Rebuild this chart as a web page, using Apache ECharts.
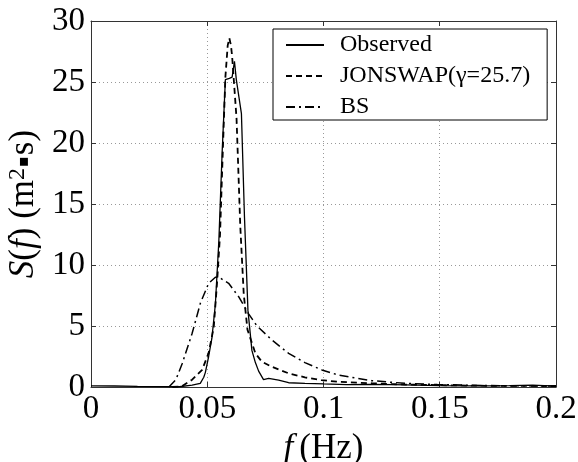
<!DOCTYPE html>
<html>
<head>
<meta charset="utf-8">
<script src="https://cdn.jsdelivr.net/npm/echarts@6/dist/echarts.min.js"></script>
<style>html,body{margin:0;padding:0;background:#fff;}#c{width:578px;height:462px;}</style>
</head>
<body>
<div id="c"></div>
<script>
// ---- data ----
const xTickLabels = ['0', '0.05', '0.1', '0.15', '0.2'];
const yTickLabels = ['0', '5', '10', '15', '20', '25', '30'];
const seriesNames = ['Observed', 'JONSWAP(\u03b3=25.7)', 'BS'];

const obsF = [0, 0.01, 0.02, 0.03, 0.038, 0.0435, 0.047, 0.0485, 0.0492, 0.0506, 0.052, 0.0535, 0.055, 0.0564, 0.0578, 0.0595, 0.0607, 0.0617, 0.0625, 0.0647, 0.066, 0.0675, 0.0692, 0.0707, 0.0721, 0.0742, 0.0764, 0.0807, 0.085, 0.092, 0.1, 0.11, 0.12, 0.13, 0.14, 0.15, 0.16, 0.17, 0.18, 0.19, 0.195, 0.2];
const obsS = [0.1, 0.08, 0.05, 0.03, 0.02, 0.15, 0.3, 0.8, 1.2, 2.5, 4.0, 6.8, 12.0, 19.2, 25.2, 25.3, 25.4, 26.7, 25.2, 22.4, 14.0, 6.3, 3.0, 2.0, 1.3, 0.6, 0.71, 0.57, 0.35, 0.3, 0.25, 0.2, 0.22, 0.2, 0.15, 0.12, 0.1, 0.1, 0.12, 0.15, 0.12, 0.08];

const jonF = [0.035, 0.039, 0.0435, 0.0478, 0.0506, 0.0528, 0.0542, 0.0555, 0.0567, 0.0578, 0.0588, 0.0595, 0.0602, 0.0607, 0.0626, 0.0642, 0.0657, 0.0673, 0.0707, 0.0735, 0.0778, 0.085, 0.092, 0.099, 0.106, 0.121, 0.135, 0.15, 0.17, 0.2];
const jonS = [0, 0.05, 0.6, 1.4, 2.8, 4.9, 8.5, 12.5, 19.4, 25.4, 28.0, 28.6, 28.0, 27.1, 22.0, 13.2, 7.6, 4.7, 2.76, 2.07, 1.66, 1.12, 0.79, 0.57, 0.43, 0.3, 0.2, 0.15, 0.1, 0.08];

const bsF = [0.0335, 0.0365, 0.0392, 0.0435, 0.0471, 0.0506, 0.0535, 0.055, 0.0592, 0.0635, 0.0678, 0.0714, 0.0778, 0.085, 0.092, 0.0993, 0.1064, 0.1207, 0.135, 0.149, 0.17, 0.2];
const bsS = [0, 0.6, 1.9, 4.4, 6.9, 8.5, 9.0, 9.0, 8.5, 7.4, 6.0, 5.0, 3.85, 2.76, 2.0, 1.4, 0.98, 0.52, 0.3, 0.2, 0.12, 0.08];

function zip(a, b) { return a.map((v, i) => [v, b[i]]); }

const FONT = 'Liberation Serif';
const chart = echarts.init(document.getElementById('c'), null, { renderer: 'canvas' });

const axisLineStyle = { color: '#333', width: 1 };
const gridLineStyle = { type: [1, 3], color: '#999', width: 1 };

chart.setOption({
  animation: false,
  backgroundColor: '#fff',
  grid: { left: 91, right: 22, top: 21, bottom: 75, containLabel: false, outerBoundsMode: 'none' },
  legend: {
    orient: 'vertical',
    left: 273,
    top: 29,
    padding: [4, 17, 1, 12],
    itemGap: 7,
    itemWidth: 38,
    itemHeight: 24,
    backgroundColor: '#fff',
    borderColor: '#000',
    borderWidth: 1,
    borderRadius: 0,
    itemStyle: { opacity: 0 },
    textStyle: { fontFamily: FONT, fontSize: 24, color: '#000', padding: [0, 0, 0, 11] },
    data: seriesNames
  },
  xAxis: [{
    type: 'value', min: 0, max: 0.2, interval: 0.05,
    position: 'bottom',
    axisLine: { show: true, onZero: false, lineStyle: axisLineStyle },
    axisTick: { show: true, inside: true, length: 5, lineStyle: axisLineStyle },
    axisLabel: {
      fontFamily: FONT, fontSize: 33, color: '#000', margin: 6,
      formatter: (v) => xTickLabels[Math.round(v / 0.05)]
    },
    splitLine: { show: true, lineStyle: gridLineStyle },
    name: '{i|f}{n|(Hz)}',
    nameLocation: 'middle',
    nameGap: 32,
    nameTextStyle: {
      rich: {
        i: { fontFamily: FONT, fontSize: 35, fontStyle: 'italic', color: '#000', padding: [0, 6, 0, 0] },
        n: { fontFamily: FONT, fontSize: 35, color: '#000' }
      }
    }
  }, {
    type: 'value', min: 0, max: 0.2, interval: 0.05,
    position: 'top',
    axisLine: { show: true, onZero: false, lineStyle: axisLineStyle },
    axisTick: { show: true, inside: true, length: 5, lineStyle: axisLineStyle },
    axisLabel: { show: false },
    splitLine: { show: false }
  }],
  yAxis: [{
    type: 'value', min: 0, max: 30, interval: 5,
    position: 'left',
    axisLine: { show: true, onZero: false, lineStyle: axisLineStyle },
    axisTick: { show: true, inside: true, length: 5, lineStyle: axisLineStyle },
    axisLabel: {
      fontFamily: FONT, fontSize: 33, color: '#000', margin: 6,
      formatter: (v) => yTickLabels[Math.round(v / 5)]
    },
    splitLine: { show: true, lineStyle: gridLineStyle },
    name: '{i|S}{n|(}{i|f}{n|) (m}{sup|2}{d|\u25aa}{n|s)}',
    nameLocation: 'middle',
    nameGap: 33,
    nameRotate: 90,
    nameTextStyle: {
      rich: {
        i: { fontFamily: FONT, fontSize: 35, fontStyle: 'italic', color: '#000', lineHeight: 36 },
        n: { fontFamily: FONT, fontSize: 35, color: '#000', lineHeight: 36 },
        sup: { fontFamily: FONT, fontSize: 24, color: '#000', lineHeight: 24, verticalAlign: 'top' },
        d: { fontFamily: 'DejaVu Sans', fontSize: 16, color: '#000', lineHeight: 36, padding: [0, 1, 0, 1] }
      }
    }
  }, {
    type: 'value', min: 0, max: 30, interval: 5,
    position: 'right',
    axisLine: { show: true, onZero: false, lineStyle: axisLineStyle },
    axisTick: { show: true, inside: true, length: 5, lineStyle: axisLineStyle },
    axisLabel: { show: false },
    splitLine: { show: false }
  }],
  series: [{
    name: seriesNames[0], type: 'line', xAxisIndex: 0, yAxisIndex: 0,
    data: zip(obsF, obsS), symbol: 'none', showSymbol: false,
    lineStyle: { color: '#000', width: 1.3, type: 'solid' },
    itemStyle: { color: '#000' }
  }, {
    name: seriesNames[1], type: 'line', xAxisIndex: 0, yAxisIndex: 0,
    data: zip(jonF, jonS), symbol: 'none', showSymbol: false,
    lineStyle: { color: '#000', width: 1.8, type: [6, 4] },
    itemStyle: { color: '#000' }
  }, {
    name: seriesNames[2], type: 'line', xAxisIndex: 0, yAxisIndex: 0,
    data: zip(bsF, bsS), symbol: 'none', showSymbol: false,
    lineStyle: { color: '#000', width: 1.5, type: [9, 4, 2, 4] },
    itemStyle: { color: '#000' }
  }]
});
</script>
</body>
</html>
